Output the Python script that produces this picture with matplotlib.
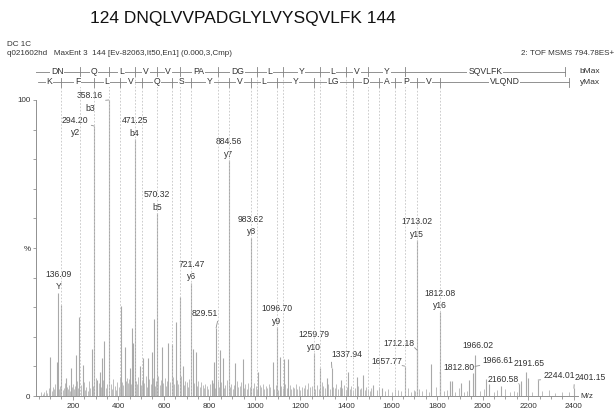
import numpy as np
import matplotlib.pyplot as plt

plt.rcParams['font.family'] = ['Liberation Sans', 'DejaVu Sans']

# popsane piky (m/z, relativni intenzita v %)
label_mz = [136.09, 294.20, 358.16, 471.25, 570.32, 721.47, 829.51, 884.56, 983.62,
            1096.70, 1259.79, 1337.94, 1657.77, 1712.18, 1713.02, 1812.08, 1812.80,
            1966.02, 1966.61, 2160.58, 2191.65, 2244.01, 2401.15]
label_int = [34.8, 91.2, 100.0, 86.7, 61.8, 38.2, 23.0, 79.7, 53.4,
             23.3, 14.5, 9.5, 10.1, 15.5, 52.7, 28.4, 7.8,
             14.0, 10.0, 4.0, 8.2, 5.4, 2.6]
ion_names = ['Y', 'y2', 'b3', 'b4', 'b5', 'y6', '', 'y7', 'y8',
             'y9', 'y10', '', '', '', 'y15', 'y16', '',
             '', '', '', '', '', '']

# dalsi vyraznejsi piky bez popisku
minor_mz = [100, 130, 150, 169, 191, 214, 229, 243, 283, 308, 320, 330, 339, 411, 428,
            452, 459, 466, 495, 510, 532, 547, 558, 591, 620, 635, 653, 670, 683, 729,
            740, 810, 820, 848, 858, 913, 946, 1015, 1078, 1110, 1128, 1147, 1286, 1315,
            1377, 1410, 1447, 1476, 1520, 1557, 1772, 1856, 1865, 1903, 1940, 1960, 2013,
            2028, 2080, 2170, 2198]
minor_int = [13.3, 11.6, 30.7, 6.0, 9.4, 13.8, 26.8, 10.5, 15.8, 5.4, 8.0, 13.0, 18.7, 30.5, 16.5,
             9.4, 23.0, 18.0, 10.0, 13.0, 12.8, 14.7, 26.0, 16.7, 18.0, 17.5, 25.0, 33.5, 10.0, 16.0,
             15.0, 5.5, 11.6, 15.5, 13.0, 11.0, 12.4, 8.2, 11.6, 13.3, 12.4, 12.4, 9.3, 6.0,
             5.4, 8.0, 6.5, 7.0, 3.7, 2.6, 10.7, 5.0, 5.0, 4.5, 5.5, 7.8, 5.6,
             4.0, 3.4, 5.0, 6.0]

# sum v pozadi
noise_mz = [62, 68, 75, 81, 88, 94, 107, 113, 118, 124, 141, 145, 156, 160, 164, 173, 178,
            183, 187, 196, 201, 205, 210, 219, 224, 236, 249, 255, 260, 266, 271, 277, 288,
            300, 304, 314, 325, 334, 345, 350, 366, 372, 378, 384, 390, 396, 401, 406, 417,
            422, 434, 439, 444, 448, 456, 463, 477, 483, 488, 500, 505, 515, 520, 526, 537,
            542, 552, 563, 567, 576, 581, 586, 597, 603, 608, 614, 626, 641, 646, 659, 664,
            677, 688, 694, 700, 706, 712, 733, 746, 752, 758, 764, 770, 777, 783, 789, 795,
            801, 815, 825, 836, 842, 853, 865, 870, 877, 890, 896, 902, 908, 920, 927, 933,
            940, 952, 958, 965, 971, 977, 990, 996, 1003, 1009, 1022, 1028, 1035, 1041, 1048,
            1055, 1061, 1068, 1085, 1091, 1103, 1116, 1122, 1134, 1140, 1153, 1160, 1166,
            1173, 1180, 1187, 1194, 1200, 1207, 1214, 1221, 1228, 1235, 1242, 1249, 1266,
            1273, 1280, 1293, 1300, 1307, 1322, 1329, 1344, 1351, 1358, 1365, 1372, 1384,
            1391, 1398, 1404, 1417, 1424, 1431, 1439, 1454, 1461, 1468, 1483, 1490, 1498,
            1505, 1512, 1535, 1545, 1570, 1585, 1600, 1615, 1630, 1643, 1672, 1686, 1697,
            1705, 1720, 1735, 1750, 1765, 1795, 1830, 1845, 1880, 1895, 1920, 1930, 1990,
            2005, 2050, 2065, 2100, 2120, 2140, 2150, 2215, 2260, 2290, 2320, 2350, 2380]
noise_int = [1.2, 0.8, 1.5, 2.0, 1.1, 2.6, 1.8, 3.0, 2.2, 4.1, 2.5, 3.4, 1.9, 2.8, 4.5, 3.1, 2.2,
             3.6, 1.7, 2.9, 4.0, 2.4, 3.3, 5.1, 2.7, 3.8, 4.6, 2.0, 3.2, 1.8, 4.9, 2.6, 3.5,
             6.2, 2.3, 4.4, 3.0, 5.5, 2.8, 3.9, 4.2, 2.5, 5.8, 3.4, 2.1, 4.7, 3.1, 6.5, 4.8,
             3.6, 5.2, 6.0, 4.3, 5.6, 3.9, 6.8, 5.0, 4.1, 6.3, 3.7, 5.4, 4.5, 6.9, 3.2, 5.7,
             4.0, 6.1, 3.5, 4.9, 6.6, 3.8, 5.3, 4.4, 6.0, 3.3, 5.1, 4.7, 6.4, 3.9, 5.5, 4.2,
             6.7, 3.6, 5.0, 4.6, 3.1, 5.8, 4.3, 3.5, 5.2, 2.9, 4.8, 3.7, 2.6, 4.1, 3.3, 2.4,
             3.9, 4.4, 2.8, 5.1, 3.2, 4.6, 2.7, 3.8, 5.3, 3.0, 4.2, 2.5, 3.6, 4.9, 2.9, 3.4,
             4.7, 2.6, 3.9, 2.2, 4.3, 3.1, 2.8, 4.5, 3.3, 2.4, 3.7, 2.9, 4.1, 2.3, 3.5, 2.7,
             4.0, 3.2, 2.5, 3.8, 2.1, 3.4, 2.8, 4.2, 2.6, 3.6, 2.2, 3.0, 2.7, 3.9, 2.4, 3.3,
             2.0, 3.1, 2.6, 3.7, 2.3, 4.4, 2.9, 3.5, 2.5, 3.8, 2.2, 4.6, 3.4, 2.8, 3.9, 2.4,
             3.2, 2.7, 4.1, 2.3, 3.0, 2.6, 3.6, 2.1, 2.9, 2.4, 3.3, 2.0, 2.7, 3.5, 2.2, 2.8,
             1.9, 3.1, 2.5, 1.8, 2.6, 2.1, 3.0, 1.7, 2.4, 1.5, 2.2, 1.9, 1.6, 2.7, 1.4, 2.1,
             1.8, 2.5, 1.6, 2.3, 1.4, 2.9, 1.7, 2.0, 1.5, 2.6, 1.3, 1.8, 1.6, 2.2, 1.4, 1.9,
             2.4, 1.5, 1.7, 1.2, 1.4, 1.6, 2.1, 1.1, 1.5, 1.3]

# sekvencni zahlavi: hranice b a y iontu
b_labels = ['DN', 'Q', 'L', 'V', 'V', 'PA', 'DG', 'L', 'Y', 'L', 'V', 'Y', 'SQVLFK']
b_bounds = [34, 230.07, 358.13, 471.21, 570.28, 669.35, 837.44, 1009.49, 1122.57,
            1285.64, 1398.72, 1497.79, 1660.85, 2363.27]
y_labels = ['K', 'F', 'L', 'V', 'Q', 'S', 'Y', 'V', 'L', 'Y', 'LG', 'D', 'A', 'P', 'V', 'VLQND']
y_bounds = [47, 147.11, 294.18, 407.27, 506.33, 634.39, 721.42, 884.49, 983.55, 1096.64,
            1259.70, 1429.81, 1544.83, 1615.87, 1712.92, 1811.99, 2381.30]

# umisteni popisku (posun textu v pixelech vuci vrcholu piku), jinak vycentrovano nad pikem
label_offsets = {
    294.20: (-19, 6), 358.16: (-19, 4),
    829.51: (-11, 14), 1337.94: (15, 13), 1657.77: (-18, 5), 1712.18: (-18, 7),
    1812.80: (19, 5), 1966.61: (23, 6), 2160.58: (-16, 5), 2244.01: (21, 5),
    2401.15: (16, 11), 1966.02: (3, 9), 2191.65: (3, 8),
}

W, H = 616, 415
X0, X1 = 38.6, 2419
peak_col = '#a9a9a9'
txt_col = '#333333'
grey = '#808080'

fig = plt.figure(figsize=(W / 100, H / 100), dpi=100)
rect = [36 / W, (H - 396) / H, (578 - 36) / W, (396 - 100) / H]
ax = fig.add_axes(rect)

ax.vlines(noise_mz, 0, noise_int, color='#bdbdbd', lw=0.7)
ax.vlines(minor_mz, 0, minor_int, color=peak_col, lw=0.8)
ax.vlines(label_mz, 0, label_int, color=peak_col, lw=0.8)

ax.set_xlim(X0, X1)
ax.set_ylim(0, 100)
for s in ['top', 'right']:
    ax.spines[s].set_visible(False)
for s in ['left', 'bottom']:
    ax.spines[s].set_color('#909090')
    ax.spines[s].set_linewidth(0.7)

ax.set_xticks(np.arange(200, 2401, 200))
ax.set_xticks(np.arange(50, 2401, 50), minor=True)
ax.set_yticks(np.arange(0, 101, 10))
ax.set_yticklabels(['0', '', '', '', '', '%', '', '', '', '', '100'])
ax.tick_params(axis='both', which='both', colors='#909090', labelcolor=txt_col,
               labelsize=5.8, width=0.6)
ax.tick_params(axis='x', which='major', length=3, pad=2)
ax.tick_params(axis='x', which='minor', length=2)
ax.tick_params(axis='y', length=2, pad=2)
ax.text(1.005, 0.0, 'M/z', transform=ax.transAxes, fontsize=5.8, color=txt_col,
        ha='left', va='center')

# popisky piku
for mz, inten, ion in zip(label_mz, label_int, ion_names):
    if mz in label_offsets:
        dx, dy = label_offsets[mz]
        if abs(dx) > 5:
            rel = (1, 0) if dx < 0 else (0, 0)
            ax.annotate(f'{mz:.2f}', xy=(mz, inten), xytext=(dx, dy),
                        textcoords='offset pixels', ha='center', va='center',
                        fontsize=6.2, color=txt_col,
                        arrowprops=dict(arrowstyle='-', color='#909090', lw=0.6,
                                        shrinkA=0, shrinkB=0, relpos=rel))
        else:
            ax.annotate(f'{mz:.2f}', xy=(mz, inten), xytext=(dx, dy),
                        textcoords='offset pixels', ha='center', va='center',
                        fontsize=6.2, color=txt_col)
        if ion:
            ax.annotate(ion, xy=(mz, inten), xytext=(dx, dy - 12.5),
                        textcoords='offset pixels', ha='center', va='center',
                        fontsize=6.2, color=txt_col)
    else:
        ax.annotate(f'{mz:.2f}', xy=(mz, inten), xytext=(0, 18.5),
                    textcoords='offset pixels', ha='center', va='center',
                    fontsize=6.2, color=txt_col)
        ax.annotate(ion, xy=(mz, inten), xytext=(0, 6),
                    textcoords='offset pixels', ha='center', va='center',
                    fontsize=6.2, color=txt_col)

# zahlavi se sekvenci, osa y v pixelech shora
axh = fig.add_axes([rect[0], (H - 396) / H, rect[2], (396 - 60) / H])
axh.set_xlim(X0, X1)
axh.set_ylim(396, 60)
axh.axis('off')
axh.patch.set_alpha(0)

rows = [(b_bounds, b_labels, 72, 'bMax'), (y_bounds, y_labels, 82.5, 'yMax')]
for bounds, labels, yr, end_txt in rows:
    axh.plot([bounds[0], bounds[-1]], [yr, yr], color=grey, lw=0.6, zorder=2)
    for b in bounds[1:]:
        axh.plot([b, b], [yr - 4.5, yr + 4.5], color=grey, lw=0.6, zorder=2)
    for b in bounds[1:-1]:
        axh.plot([b, b], [yr + 4.5, 396], color='#c4c4c4', lw=0.6,
                 ls=(0, (2, 2)), zorder=1)
    for i, lab in enumerate(labels):
        xc = 0.5 * (bounds[i] + bounds[i + 1])
        axh.text(xc, yr - 0.5, lab, ha='center', va='center', fontsize=6.2, color=txt_col,
                 zorder=3, bbox=dict(facecolor='white', edgecolor='none', pad=0.6))
    axh.text(2472, yr - 0.5, end_txt, ha='center', va='center', fontsize=6.0,
             color=txt_col, zorder=3)

fig.text(243 / W, 1 - 19 / H, '124 DNQLVVPADGLYLVYSQVLFK 144', ha='center', va='center',
         fontsize=12.5, color='#111111')
fig.text(7 / W, 1 - 44 / H, 'DC 1C', ha='left', va='center', fontsize=5.9, color=txt_col)
fig.text(7 / W, 1 - 53.5 / H, 'q021602hd   MaxEnt 3  144 [Ev-82063,It50,En1] (0.000,3,Cmp)',
         ha='left', va='center', fontsize=5.8, color=txt_col)
fig.text(614 / W, 1 - 53.5 / H, '2: TOF MSMS 794.78ES+', ha='right', va='center',
         fontsize=5.8, color=txt_col)

fig.savefig('out.png', dpi=100)
